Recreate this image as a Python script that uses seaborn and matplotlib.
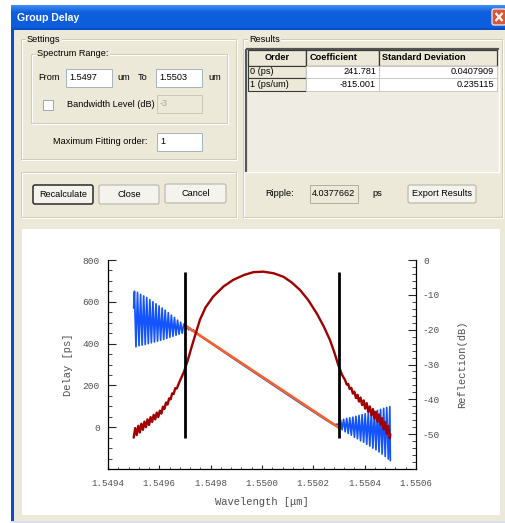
import numpy as np
import seaborn as sns
import matplotlib.pyplot as plt
from matplotlib.patches import Rectangle, FancyBboxPatch
from matplotlib.ticker import FixedLocator, MultipleLocator, FormatStrFormatter

# group delay (ps), ripple at both band edges
delay_wl = [1.549500, 1.549503, 1.549509, 1.549515, 1.549521, 1.549527, 1.549533, 1.549539,
            1.549545, 1.549551, 1.549557, 1.549563, 1.549569, 1.549575, 1.549581, 1.549587,
            1.549593, 1.549599, 1.549605, 1.549611, 1.549617, 1.549623, 1.549629, 1.549635,
            1.549641, 1.549647, 1.549653, 1.549659, 1.549665, 1.549671, 1.549677, 1.549683,
            1.549689, 1.549695,
            1.549700, 1.549705, 1.549710, 1.549715, 1.549720, 1.549726, 1.549732, 1.549740,
            1.549750, 1.549775, 1.549800, 1.549850, 1.549900, 1.549950, 1.550000, 1.550050,
            1.550100, 1.550150, 1.550200, 1.550250, 1.550280,
            1.550300, 1.550306, 1.550312, 1.550318, 1.550324, 1.550330, 1.550336, 1.550342,
            1.550348, 1.550354, 1.550360, 1.550366, 1.550372, 1.550378, 1.550384, 1.550390,
            1.550396, 1.550402, 1.550408, 1.550414, 1.550420, 1.550426, 1.550432, 1.550438,
            1.550444, 1.550450, 1.550456, 1.550462, 1.550468, 1.550474, 1.550480, 1.550486,
            1.550492, 1.550498, 1.550500]
delay_ps = [570, 650, 385, 645, 390, 635, 393, 628,
            396, 620, 400, 610, 404, 600, 408, 590,
            412, 580, 416, 570, 420, 560, 425, 548,
            430, 536, 435, 525, 440, 512, 445, 502,
            450, 493,
            486, 468, 482, 466, 474, 462, 466, 455,
            446, 424, 403, 361, 319, 278, 237, 196,
            155, 114, 74, 34, 12,
            15, 35, -12, 38, -22, 42, -30, 45,
            -38, 48, -48, 52, -55, 56, -65, 60,
            -72, 64, -82, 68, -90, 72, -100, 76,
            -108, 80, -118, 85, -128, 90, -140, 94,
            -152, 98, -160]

# reflection spectrum (dB)
refl_wl = [1.549500, 1.549506, 1.549512, 1.549518, 1.549524, 1.549530, 1.549536, 1.549542,
           1.549548, 1.549554, 1.549560, 1.549566, 1.549572, 1.549578, 1.549584, 1.549590,
           1.549596, 1.549602, 1.549608, 1.549614, 1.549620, 1.549626, 1.549632, 1.549638,
           1.549644, 1.549650, 1.549656, 1.549662, 1.549668,
           1.549680, 1.549696, 1.549710, 1.549726, 1.549740, 1.549758, 1.549780, 1.549810,
           1.549850, 1.549888, 1.549930, 1.549966, 1.550005, 1.550045, 1.550083, 1.550115,
           1.550148, 1.550180, 1.550213, 1.550240, 1.550265, 1.550283, 1.550297, 1.550312,
           1.550324, 1.550330, 1.550336, 1.550342, 1.550348, 1.550354, 1.550360, 1.550366,
           1.550372, 1.550378, 1.550384, 1.550390, 1.550396, 1.550402, 1.550408, 1.550414,
           1.550420, 1.550426, 1.550432, 1.550438, 1.550444, 1.550450, 1.550456, 1.550462,
           1.550468, 1.550474, 1.550480, 1.550486, 1.550492, 1.550498, 1.550500]
refl_db = [-51.0, -48.25, -50.25, -47.6, -49.5, -47.0, -48.75, -46.4,
           -48.0, -45.75, -47.35, -45.1, -46.5, -44.45, -45.75, -43.8,
           -45.1, -43.25, -44.1, -42.1, -42.75, -40.9, -41.5, -39.75,
           -40.0, -38.3, -38.45, -36.8, -36.9,
           -34.7, -32.1, -29.0, -24.9, -21.5, -17.2, -13.6, -10.5,
           -7.6, -5.7, -4.3, -3.5, -3.35, -3.8, -4.8, -6.4,
           -8.6, -11.5, -15.3, -19.0, -23.0, -26.8, -30.1, -33.0,
           -34.5, -35.75, -35.6, -37.05, -36.7, -38.35, -37.8, -39.65,
           -38.7, -40.65, -39.5, -41.65, -40.3, -42.65, -41.1, -43.6,
           -42.05, -44.6, -42.8, -45.55, -43.6, -46.4, -44.35, -47.4,
           -45.4, -48.65, -46.5, -49.9, -47.65, -51.2, -50.0]

# linear fit over the selected range, and the range markers
fit_wl = [1.5497, 1.5503]
fit_ps = [486.3, -2.7]
range_wl = [1.5497, 1.5503]

x_ticks = [1.5494, 1.5496, 1.5498, 1.5500, 1.5502, 1.5504, 1.5506]
delay_ticks = [0, 200, 400, 600, 800]
refl_ticks = [-50, -40, -30, -20, -10, 0]

table_cols = ['Order', 'Coefficient', 'Standard Deviation']
table_rows = ['0 (ps)', '1 (ps/um)']
coef_vals = ['241.781', '-815.001']
std_vals = ['0.0407909', '0.235115']
ripple_val = '4.0377662'

sns.set_style('white')
plt.rcParams['font.family'] = ['Liberation Sans', 'DejaVu Sans']
plt.rcParams['axes.unicode_minus'] = False

BEIGE = '#ECE9D8'
UI = dict(fontsize=6.6, color='black', va='center', family=['Liberation Sans', 'DejaVu Sans'])

fig = plt.figure(figsize=(5.05, 5.23), dpi=100)
bg = fig.add_axes([0, 0, 1, 1])
bg.axis('off')


def box(x0, y0, x1, y1, fc='none', ec='none', lw=0.72, z=1):
    bg.add_patch(Rectangle((x0, y0), x1 - x0, y1 - y0, facecolor=fc, edgecolor=ec,
                           linewidth=lw, zorder=z))


def line(xs, ys, c, lw=0.72, z=3):
    bg.plot(xs, ys, color=c, linewidth=lw, zorder=z, solid_capstyle='butt')


def group(x0, y0, x1, y1, label=None):
    box(x0 + 0.7, y0 + 0.7, x1 + 0.7, y1 + 0.7, ec='white', z=2)
    box(x0, y0, x1, y1, ec='#D0CCBB', z=2)
    if label:
        bg.text(x0 + 6, y0, label, zorder=4, **UI,
                bbox=dict(boxstyle='square,pad=0.15', fc=BEIGE, ec='none'))


def button(x0, y0, x1, y1, label, default=False):
    bg.add_patch(FancyBboxPatch((x0, y0), x1 - x0, y1 - y0,
                                boxstyle='round,pad=0,rounding_size=2',
                                fc='#F4F3EE', ec='#2A2A2A' if default else '#B8B5A6',
                                lw=1.1 if default else 0.8, zorder=3))
    bg.text((x0 + x1) / 2, (y0 + y1) / 2, label, ha='center', zorder=4, **UI)


def entry(x0, y0, x1, y1, text, enabled=True):
    box(x0, y0, x1, y1, fc='white' if enabled else BEIGE,
        ec='#A7B4C2' if enabled else '#CBC8BA', z=3)
    style = dict(UI)
    if not enabled:
        style['color'] = '#A5A5A5'
    bg.text(x0 + 3, (y0 + y1) / 2, text, zorder=4, **style)


# window frame and title bar
box(11, 30, 505, 523, fc=BEIGE, z=0)
grad_top = np.array([0.24, 0.56, 0.96])
grad_mid = np.array([0.05, 0.37, 0.87])
grad = np.vstack([np.linspace(grad_top, grad_mid, 8), np.tile(grad_mid, (14, 1)),
                  np.linspace(grad_mid, [0.03, 0.30, 0.78], 4)])
bg.imshow(grad[:, None, :], extent=[11, 505, 30, 5], aspect='auto', zorder=1)
box(11, 30, 14, 523, fc='#0B4AD4', z=1)
box(11, 521, 505, 523, fc='#D9E1EC', z=1)
bg.text(17, 18, 'Group Delay', color='white', fontsize=7.6, fontweight='bold',
        va='center', family=['Liberation Sans', 'DejaVu Sans'], zorder=3)
bg.add_patch(FancyBboxPatch((492, 9), 14, 16, boxstyle='round,pad=0,rounding_size=2',
                            fc='#DD5533', ec='white', lw=0.8, zorder=3))
line([495.5, 502.5], [13, 21], 'white', lw=1.6, z=4)
line([495.5, 502.5], [21, 13], 'white', lw=1.6, z=4)

# settings panel
group(21, 39, 236, 159, 'Settings')
group(31, 54, 227, 123, 'Spectrum Range:')
bg.text(38, 77, 'From', zorder=4, **UI)
entry(66, 69, 112, 87, '1.5497')
bg.text(117, 77, 'um', zorder=4, **UI)
bg.text(138, 77, 'To', zorder=4, **UI)
entry(156, 69, 202, 87, '1.5503')
bg.text(208, 77, 'um', zorder=4, **UI)
box(42.5, 99.5, 52.5, 109.5, fc='white', ec='#9AA9BA', z=3)
bg.text(67, 104.5, 'Bandwidth Level (dB)', zorder=4, **UI)
entry(157, 95, 202, 113, '-3', enabled=False)
bg.text(53, 141.5, 'Maximum Fitting order:', zorder=4, **UI)
entry(157, 133, 202, 151, '1')

group(21, 172, 236, 217)
button(33, 185, 93, 204, 'Recalculate', default=True)
button(99, 185, 159, 204, 'Close')
button(165, 184, 226, 203, 'Cancel')

# results panel
group(243, 39, 502, 217, 'Results')
box(246, 48.5, 499, 172, fc='#EEECE3', z=2)
line([246, 246], [48.5, 172], '#555555', lw=1.6)
line([246, 499], [48.5, 48.5], '#555555', lw=1.6)
line([499, 499], [48.5, 172], 'white', lw=1.0)
line([246, 499], [172, 172], 'white', lw=1.0)
col_x = [247.5, 306, 378.5, 496.5]
row_y = [49.5, 65.5, 78.3, 91]
for i, name in enumerate(table_cols):
    box(col_x[i], row_y[0], col_x[i + 1], row_y[1], fc=BEIGE, ec='#3A3A3A', lw=0.9, z=3)
    if i == 0:
        bg.text((col_x[0] + col_x[1]) / 2, (row_y[0] + row_y[1]) / 2, name, ha='center',
                fontweight='bold', zorder=4, **UI)
    else:
        bg.text(col_x[i] + 3.5, (row_y[0] + row_y[1]) / 2, name,
                fontweight='bold', zorder=4, **UI)
for r, name in enumerate(table_rows):
    y0, y1 = row_y[r + 1], row_y[r + 2]
    box(col_x[0], y0, col_x[1], y1, fc=BEIGE, ec='#3A3A3A', lw=0.8, z=3)
    box(col_x[1], y0, col_x[2], y1, fc='white', ec='#C8C8C8', lw=0.7, z=3)
    box(col_x[2], y0, col_x[3], y1, fc='white', ec='#C8C8C8', lw=0.7, z=3)
    bg.text(col_x[0] + 2, (y0 + y1) / 2, name, zorder=4, **UI)
    bg.text(col_x[2] - 2.5, (y0 + y1) / 2, coef_vals[r], ha='right', zorder=4, **UI)
    bg.text(col_x[3] - 2.5, (y0 + y1) / 2, std_vals[r], ha='right', zorder=4, **UI)

bg.text(265, 193.5, 'Ripple:', zorder=4, **UI)
box(310, 185, 358, 203, fc=BEIGE, ec='#B2AFA0', z=3)
bg.text(312, 193.5, ripple_val, zorder=4, **UI)
bg.text(372, 193.5, 'ps', zorder=4, **UI)
button(408, 185, 476, 203, 'Export Results')

# plot panel
box(22, 229, 500, 515, fc='white', z=1)
bg.set_xlim(0, 505)
bg.set_ylim(523, 0)

# chart
MONO = ['Liberation Mono', 'DejaVu Sans Mono']
GREY = '#505050'
ax = fig.add_axes([108 / 505, 1 - 469 / 523, 308 / 505, 209 / 523])
ax.patch.set_alpha(0)
sns.lineplot(x=delay_wl, y=delay_ps, ax=ax, color='#1454FF', linewidth=1.25,
             estimator=None, sort=False)
sns.lineplot(x=fit_wl, y=fit_ps, ax=ax, color='#F8602A', linewidth=1.9,
             estimator=None, sort=False)
ax.set_xlim(1.5494, 1.5506)
ax.set_ylim(-200, 800)

ax2 = ax.twinx()
sns.lineplot(x=refl_wl, y=refl_db, ax=ax2, color='#A00000', linewidth=1.7,
             estimator=None, sort=False)
ax2.vlines(range_wl, min(refl_db), max(refl_db), color='black', linewidth=2.0)
ax2.set_ylim(-60, 0)

ax.xaxis.set_major_locator(FixedLocator(x_ticks))
ax.xaxis.set_minor_locator(MultipleLocator(0.00004))
ax.xaxis.set_major_formatter(FormatStrFormatter('%.4f'))
ax.yaxis.set_major_locator(FixedLocator(delay_ticks))
ax.yaxis.set_minor_locator(MultipleLocator(50))
ax2.yaxis.set_major_locator(FixedLocator(refl_ticks))
ax2.yaxis.set_minor_locator(MultipleLocator(2))

for a in (ax, ax2):
    for s in a.spines.values():
        s.set_visible(False)
        s.set_color('black')
        s.set_linewidth(0.9)
ax.spines['left'].set_visible(True)
ax.spines['bottom'].set_visible(True)
ax2.spines['right'].set_visible(True)

ax.tick_params(axis='x', which='major', direction='in', length=3.2, width=0.8,
               pad=7, labelsize=6.6, labelcolor=GREY, bottom=True)
ax.tick_params(axis='x', which='minor', direction='in', length=1.6, width=0.6, bottom=True)
ax.tick_params(axis='y', which='major', direction='in', length=6.0, width=0.8,
               pad=6, labelsize=6.8, labelcolor=GREY, left=True)
ax.tick_params(axis='y', which='minor', direction='in', length=2.6, width=0.6, left=True)
ax2.tick_params(axis='y', which='major', direction='in', length=6.0, width=0.8,
                pad=5, labelsize=6.8, labelcolor=GREY, right=True)
ax2.tick_params(axis='y', which='minor', direction='in', length=2.6, width=0.6, right=True)
for lab in ax.get_xticklabels() + ax.get_yticklabels() + ax2.get_yticklabels():
    lab.set_family(MONO)

ax.set_xlabel('Wavelength [μm]', fontsize=7.6, color=GREY, family=MONO, labelpad=7)
ax.set_ylabel('Delay [ps]', fontsize=7.5, color=GREY, family=MONO, labelpad=7)
ax2.set_ylabel('Reflection(dB)', fontsize=7.5, color=GREY, family=MONO, labelpad=12)

fig.savefig('out.png', dpi=100)
